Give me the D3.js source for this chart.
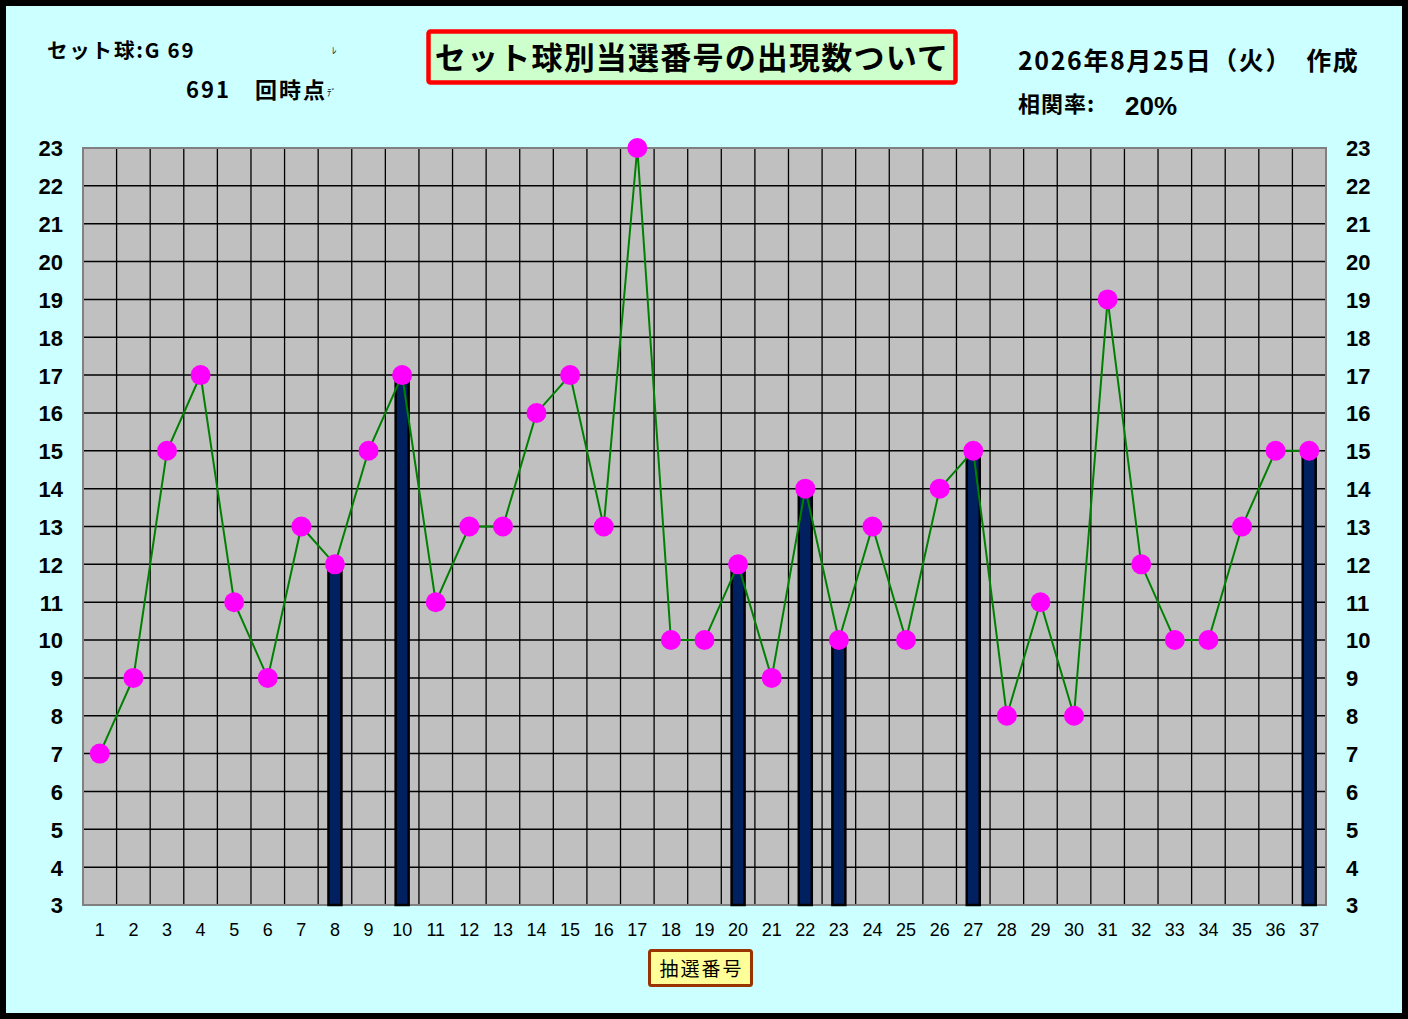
<!DOCTYPE html>
<html><head><meta charset="utf-8">
<script src="https://cdn.jsdelivr.net/npm/d3@7"></script>
<style>
html,body{margin:0;padding:0;background:#fff;}
svg{display:block;}
</style></head>
<body>
<script>
// ---- data ----
const numbers = d3.range(1, 38);
const counts = [7,9,15,17,11,9,13,12,15,17,11,13,13,16,17,13,23,10,10,12,9,14,10,13,10,14,15,8,11,8,19,12,10,10,13,15,15];
const drawnNumbers = [8,10,20,22,23,27,37];
const yTicks = d3.range(3, 24);
const titleText = "セット球別当選番号の出現数ついて";
const setBallText = "セット球:G 69";
const roundText = "691　回時点";
const dateText = "2026年8月25日（火）　作成";
const corrLabel = "相関率:";
const corrValue = "20%";
const xAxisTitle = "抽選番号";

const W = 1408, H = 1019;
const svg = d3.select("body").append("svg").attr("width", W).attr("height", H);

// outer frame
svg.append("rect").attr("x",0).attr("y",0).attr("width",W).attr("height",H).attr("fill","#000");
svg.append("rect").attr("x",6).attr("y",6).attr("width",1396).attr("height",1007).attr("fill","#CCFFFF");

const plot = {left:83, right:1326, top:148, bottom:905};
const x = d3.scaleBand().domain(numbers).range([plot.left, plot.right]).padding(0);
const y = d3.scaleLinear().domain([3, 23]).range([plot.bottom, plot.top]);

// plot background
svg.append("rect").attr("x",plot.left).attr("y",plot.top)
  .attr("width",plot.right-plot.left).attr("height",plot.bottom-plot.top).attr("fill","#C0C0C0");

// grid
const g = svg.append("g");
g.selectAll("line.h").data(yTicks.slice(1, -1)).join("line")
  .attr("x1",plot.left).attr("x2",plot.right)
  .attr("y1",d=>y(d)).attr("y2",d=>y(d))
  .attr("stroke","#000").attr("stroke-width",1.5);
g.selectAll("line.v").data(numbers.slice(1)).join("line")
  .attr("x1",d=>x(d)).attr("x2",d=>x(d))
  .attr("y1",plot.top).attr("y2",plot.bottom)
  .attr("stroke","#000").attr("stroke-width",1.3);
// border
svg.append("rect").attr("x",plot.left).attr("y",plot.top)
  .attr("width",plot.right-plot.left).attr("height",plot.bottom-plot.top)
  .attr("fill","none").attr("stroke","#808080").attr("stroke-width",2);

// bars
const barW = 13;
svg.selectAll("rect.bar").data(drawnNumbers).join("rect")
  .attr("x", d => x(d) + x.bandwidth()/2 - barW/2)
  .attr("y", d => y(counts[d-1]))
  .attr("width", barW)
  .attr("height", d => plot.bottom - y(counts[d-1]))
  .attr("fill", "#002060").attr("stroke","#000").attr("stroke-width",2.5);

// line
const line = d3.line().x((d,i)=>x(numbers[i])+x.bandwidth()/2).y(d=>y(d));
svg.append("path").datum(counts).attr("d", line)
  .attr("fill","none").attr("stroke","#008000").attr("stroke-width",2);

// dots
svg.selectAll("circle.dot").data(counts).join("circle")
  .attr("cx",(d,i)=>x(numbers[i])+x.bandwidth()/2).attr("cy",d=>y(d))
  .attr("r",10).attr("fill","#FF00FF");

// y axis labels (left & right)
const numFont = "'Liberation Sans', Arial, sans-serif";
const leftAxis = d3.axisLeft(y).tickValues(yTicks).tickSize(0).tickPadding(20);
const la = svg.append("g").attr("transform",`translate(${plot.left},0)`).call(leftAxis);
la.select(".domain").remove();
la.selectAll("text").attr("font-family",numFont).attr("font-weight","bold")
  .attr("font-size",22).attr("fill","#000").attr("dy","0.36em");
const rightAxis = d3.axisRight(y).tickValues(yTicks).tickSize(0).tickPadding(20);
const ra = svg.append("g").attr("transform",`translate(${plot.right},0)`).call(rightAxis);
ra.select(".domain").remove();
ra.selectAll("text").attr("font-family",numFont).attr("font-weight","bold")
  .attr("font-size",22).attr("fill","#000").attr("dy","0.36em");

// x axis labels
const bottomAxis = d3.axisBottom(x).tickSize(0).tickPadding(18);
const ba = svg.append("g").attr("transform",`translate(0,${plot.bottom})`).call(bottomAxis);
ba.select(".domain").remove();
ba.selectAll("text").attr("font-family",numFont).attr("font-size",18).attr("fill","#000");

// x axis title box
svg.append("rect").attr("x",649.5).attr("y",950.5).attr("width",102).attr("height",35)
  .attr("fill","#FFFF99").attr("stroke","#993300").attr("stroke-width",3).attr("rx",2);
svg.append("text").attr("x",701.5).attr("y",976).attr("text-anchor","middle")
  .attr("font-family","'Noto Sans CJK JP', sans-serif").attr("font-size",19)
  .attr("letter-spacing","2px").attr("fill","#000").text(xAxisTitle);

// title box
svg.append("rect").attr("x",428.5).attr("y",31.5).attr("width",527).attr("height",51)
  .attr("fill","#CCFFCC").attr("stroke","#FF0000").attr("stroke-width",4.5).attr("rx",2);
svg.append("text").attr("x",692).attr("y",69).attr("text-anchor","middle")
  .attr("font-family","'Noto Sans CJK JP', sans-serif").attr("font-weight","bold")
  .attr("font-size",31).attr("letter-spacing","1.2px").attr("fill","#000").text(titleText);

// top-left texts
const jp = "'Noto Sans CJK JP', sans-serif";
svg.append("text").attr("x",47).attr("y",58).attr("font-family",jp).attr("font-weight","bold")
  .attr("font-size",20.5).attr("letter-spacing","1.8px").attr("fill","#000").text(setBallText);
svg.append("text").attr("x",186).attr("y",98).attr("font-family",jp).attr("font-weight","bold")
  .attr("font-size",22).attr("letter-spacing","2px").attr("fill","#000").text(roundText);
svg.append("text").attr("x",332).attr("y",54).attr("font-family",jp)
  .attr("font-size",9).attr("fill","#000").text("ﾚ");
svg.append("text").attr("x",327).attr("y",96).attr("font-family",jp)
  .attr("font-size",9).attr("fill","#000").text("ﾃﾞ");

// top-right texts
svg.append("text").attr("x",1018).attr("y",70).attr("font-family",jp).attr("font-weight","bold")
  .attr("font-size",25).attr("letter-spacing","1.6px").attr("fill","#000").text(dateText);
svg.append("text").attr("x",1018).attr("y",112).attr("font-family",jp).attr("font-weight","bold")
  .attr("font-size",22).attr("letter-spacing","1px").attr("fill","#000").text(corrLabel);
svg.append("text").attr("x",1125).attr("y",115).attr("font-family",numFont).attr("font-weight","bold")
  .attr("font-size",26).attr("fill","#000").text(corrValue);
</script>
</body></html>
